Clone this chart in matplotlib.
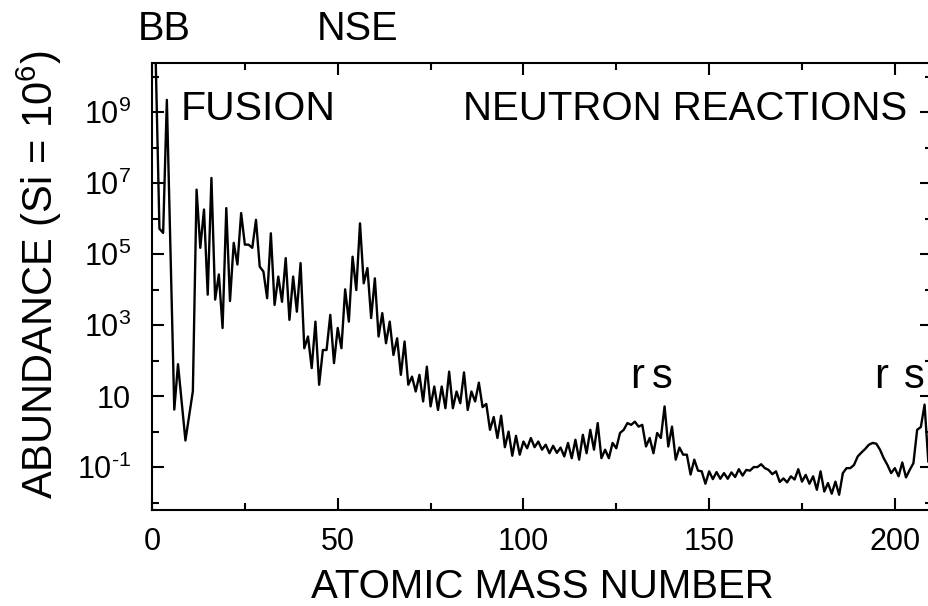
import numpy as np
import matplotlib
matplotlib.use('Agg')
import matplotlib.pyplot as plt
import matplotlib.transforms as mtransforms
from matplotlib.ticker import FixedLocator, NullFormatter

plt.rcParams['font.family'] = ['Liberation Sans', 'DejaVu Sans']
plt.rcParams['mathtext.fontset'] = 'custom'
plt.rcParams['mathtext.rm'] = 'Liberation Sans'
plt.rcParams['mathtext.it'] = 'Liberation Sans:italic'
plt.rcParams['mathtext.bf'] = 'Liberation Sans:bold'

# mass numbers, no stable nuclei at A = 5 and A = 8
mass_number = [a for a in range(1, 210) if a not in (5, 8)]

# log10 of solar abundance per mass number (Si = 1e6)
log_abundance = [
    10.45, 5.72, 5.60, 9.35,                                    # 1-4
    0.62, 1.90,                                                 # 6-7
    -0.25, 0.45, 1.14, 6.82, 5.18, 6.26, 3.86, 7.15, 3.72, 4.43,  # 9-18
    2.92, 6.30, 3.68, 5.32, 4.71, 6.16, 5.27, 5.27, 5.18, 5.97,   # 19-28
    4.65, 4.51, 3.76, 5.59, 3.57, 4.37, 3.66, 4.89, 3.15, 4.37,   # 29-38
    3.38, 4.75, 2.35, 2.68, 1.79, 3.10, 1.32, 2.30, 2.30, 3.29,   # 39-48
    1.93, 2.92, 2.35, 4.01, 3.10, 4.93, 3.99, 5.87, 4.18, 4.61,   # 49-58
    3.20, 4.32, 2.68, 3.34, 2.49, 3.10, 2.16, 2.63, 1.60, 2.54,   # 59-68
    1.32, 1.55, 1.13, 1.60, 0.85, 1.83, 0.71, 1.27, 0.61, 1.27,   # 69-78
    0.66, 1.69, 0.66, 1.13, 0.80, 1.67, 0.61, 1.13, 0.85, 1.38,   # 79-88
    0.69, 0.78, 0.05, 0.41, -0.18, 0.45, -0.44, 0.00, -0.68, -0.12,  # 89-98
    -0.65, -0.28, -0.47, -0.18, -0.44, -0.28, -0.51, -0.37, -0.61, -0.40,  # 99-108
    -0.60, -0.45, -0.70, -0.32, -0.75, -0.23, -0.79, -0.09, -0.61, 0.05,  # 109-118
    -0.51, 0.24, -0.75, -0.51, -0.75, -0.32, -0.47, -0.04, 0.05, 0.24,   # 119-128
    0.19, 0.28, 0.14, 0.19, -0.42, -0.18, -0.61, -0.04, -0.18, 0.71,     # 129-138
    -0.42, 0.14, -0.79, -0.45, -0.65, -0.65, -1.21, -0.79, -1.10, -1.12,  # 139-148
    -1.47, -1.12, -1.34, -1.14, -1.33, -1.17, -1.33, -1.15, -1.28, -1.06,  # 149-158
    -1.24, -1.08, -1.10, -1.00, -1.00, -0.92, -1.03, -1.08, -1.20, -1.12,  # 159-168
    -1.42, -1.32, -1.43, -1.26, -1.35, -1.06, -1.41, -1.22, -1.47, -1.26,  # 169-178
    -1.64, -1.12, -1.69, -1.45, -1.75, -1.41, -1.78, -1.17, -1.03, -1.03,  # 179-188
    -0.94, -0.70, -0.59, -0.49, -0.37, -0.32, -0.34, -0.51, -0.75, -0.94,  # 189-198
    -1.17, -1.03, -1.26, -0.87, -1.29, -1.08, -0.89, 0.05, 0.13, 0.76,    # 199-208
    -0.84,                                                                # 209
]

abundance = 10.0 ** np.array(log_abundance)

# tick positions and labels
x_major = [0, 50, 100, 150, 200]
x_minor = [25, 75, 125, 175]
y_major = [1e-1, 1e1, 1e3, 1e5, 1e7, 1e9]
y_labels = ['$10^{\u2010 1}$', '10', r'$10^{3}$', r'$10^{5}$', r'$10^{7}$', r'$10^{9}$']
y_minor = [1e-2, 1e0, 1e2, 1e4, 1e6, 1e8, 1e10]

fig = plt.figure(figsize=(9.29, 6.06), dpi=100)
ax = fig.add_axes([152 / 929, 96 / 606, 780 / 929, 447 / 606])

ax.plot(mass_number, abundance, color='black', lw=1.7)
ax.set_yscale('log')
ax.set_xlim(0, 210)
ax.set_ylim(10 ** -2.21, 10 ** 10.39)

ax.set_xticks(x_major)
ax.set_xticklabels([str(v) for v in x_major])
ax.xaxis.set_minor_locator(FixedLocator(x_minor))
ax.yaxis.set_major_locator(FixedLocator(y_major))
ax.set_yticklabels(y_labels)
ax.yaxis.set_minor_locator(FixedLocator(y_minor))
ax.yaxis.set_minor_formatter(NullFormatter())

ax.tick_params(which='both', direction='in', top=True, right=True, width=1.5)
ax.tick_params(which='major', length=8.6, labelsize=22)
ax.tick_params(which='minor', length=4.7)
ax.tick_params(axis='x', which='major', pad=12)
ax.tick_params(axis='y', which='major', pad=15)
for sp in ax.spines.values():
    sp.set_linewidth(1.5)

ax.set_xlabel('ATOMIC MASS NUMBER', fontsize=29, labelpad=8)
ax.set_ylabel(r'ABUNDANCE (Si = $10^{6}$)', fontsize=30)
ax.yaxis.set_label_coords(-0.113, 0.526)

# process labels
top = mtransforms.blended_transform_factory(ax.transData, ax.transAxes)
ax.text(3.3, 1.0515, 'BB', transform=top, ha='center', va='baseline', fontsize=28.5)
ax.text(55.3, 1.0515, 'NSE', transform=top, ha='center', va='baseline', fontsize=28.5)
ax.text(7.8, 10 ** 8.78, 'FUSION', ha='left', va='baseline', fontsize=29.5)
ax.text(203.3, 10 ** 8.78, 'NEUTRON REACTIONS', ha='right', va='baseline', fontsize=29)
for xr, xs in [(130.5, 137.5), (196.2, 205.2)]:
    ax.text(xr, 17, 'r', ha='center', va='baseline', fontsize=30)
    ax.text(xs, 17, 's', ha='center', va='baseline', fontsize=30)

fig.savefig('out.png', dpi=100)
